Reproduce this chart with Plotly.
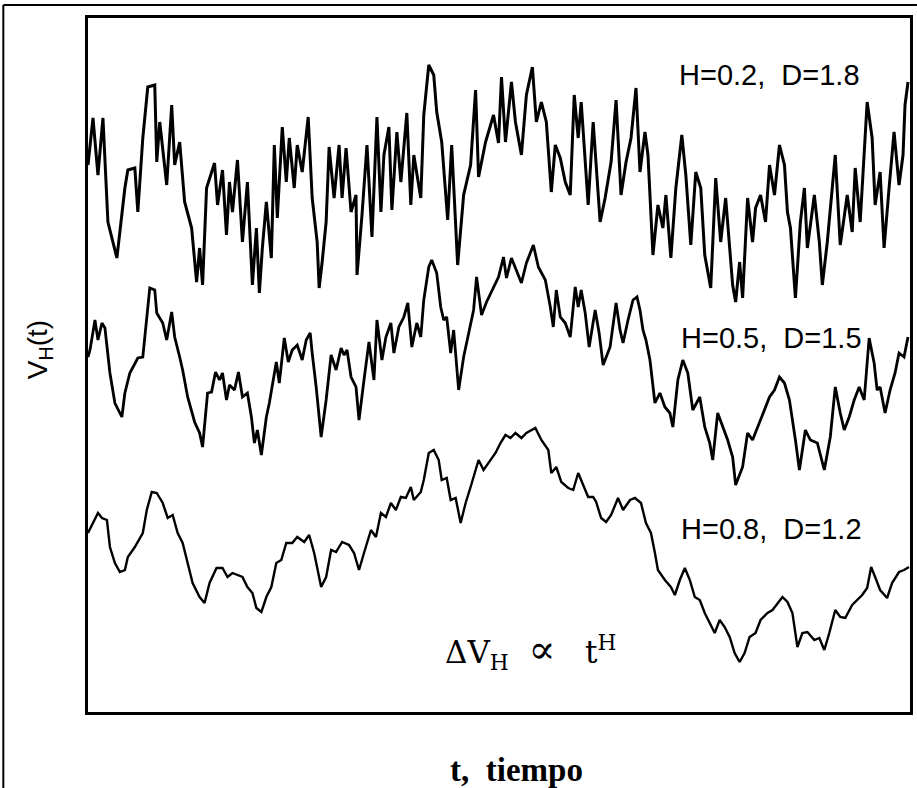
import plotly.graph_objects as go

# ---- data (t: time, V: value) ----
t_h02 = [0, 5, 10, 15, 20, 29, 37, 40, 47, 50, 55, 60, 67, 69, 72, 79, 84, 87, 92, 97, 104, 109, 112, 115, 119,
         127, 130, 135, 139, 142, 145, 150, 155, 160, 165, 169, 172, 175, 179, 184, 187, 190, 195, 199, 202, 207,
         210, 215, 221, 225, 230, 232, 235, 239, 242, 247, 252, 255, 259, 264, 269, 270, 275, 280, 285, 290, 294,
         297, 302, 305, 310, 314, 320, 324, 327, 334, 337, 342, 347, 350, 355, 361, 365, 371, 377, 384, 389, 392,
         399, 407, 412, 415, 419, 425, 429, 435, 440, 446, 450, 455, 460, 465, 469, 474, 479, 484, 488, 492, 495,
         502, 507, 514, 519, 525, 530, 535, 540, 545, 550, 554, 559, 562, 567, 572, 577, 580, 585, 590, 596, 600,
         605, 610, 615, 619, 625, 630, 635, 640, 647, 650, 654, 657, 662, 667, 670, 675, 680, 684, 689, 694, 699,
         702, 705, 710, 715, 719, 722, 729, 734, 737, 742, 747, 750, 755, 762, 767, 770, 775, 782, 787, 790, 795,
         799, 804, 809, 814, 818, 820, 823]
v_h02 = [547, 594, 537, 594, 490, 454, 524, 542, 544, 500, 574, 625, 627, 550, 590, 527, 607, 547, 570, 510, 484,
         430, 464, 427, 524, 549, 507, 542, 477, 530, 500, 552, 470, 530, 427, 484, 419, 464, 510, 454, 567, 494,
         585, 530, 574, 524, 567, 540, 595, 514, 470, 424, 450, 490, 565, 514, 567, 514, 564, 500, 517, 437, 497,
         567, 475, 595, 500, 557, 585, 502, 580, 530, 599, 507, 557, 514, 597, 647, 637, 600, 570, 492, 567, 447,
         517, 547, 622, 535, 570, 597, 569, 635, 570, 630, 590, 557, 617, 645, 590, 610, 590, 520, 567, 554, 530,
         517, 617, 574, 610, 507, 590, 490, 514, 550, 612, 517, 550, 574, 624, 540, 580, 557, 457, 507, 484, 517,
         454, 524, 577, 537, 467, 540, 524, 457, 424, 534, 470, 514, 427, 410, 450, 414, 514, 470, 504, 517, 490,
         547, 517, 567, 547, 500, 484, 414, 490, 524, 464, 517, 470, 427, 470, 524, 557, 467, 517, 480, 544, 490,
         610, 574, 507, 540, 464, 524, 580, 527, 557, 607, 630]

t_h05 = [0, 2, 7, 10, 14, 17, 22, 27, 34, 37, 42, 50, 55, 59, 62, 67, 69, 75, 79, 84, 87, 92, 95, 100, 107, 112,
         115, 120, 124, 128, 132, 135, 139, 142, 147, 151, 155, 160, 164, 167, 170, 174, 179, 182, 185, 189, 192,
         197, 201, 205, 210, 215, 219, 223, 225, 229, 234, 239, 244, 249, 254, 257, 260, 264, 269, 272, 277, 282,
         287, 290, 295, 299, 304, 307, 312, 317, 321, 325, 330, 334, 337, 342, 345, 350, 354, 357, 360, 364, 367,
         372, 377, 382, 387, 390, 395, 400, 407, 412, 417, 420, 425, 430, 435, 440, 447, 452, 459, 464, 467, 470,
         474, 479, 484, 489, 492, 495, 499, 503, 509, 513, 517, 524, 530, 534, 537, 542, 547, 551, 554, 557, 560,
         564, 569, 574, 579, 584, 587, 592, 597, 602, 607, 614, 619, 624, 627, 632, 637, 642, 647, 650, 657, 662,
         667, 674, 680, 684, 689, 694, 699, 704, 710, 714, 720, 725, 732, 739, 745, 750, 755, 759, 764, 769, 774,
         779, 784, 789, 792, 795, 800, 805, 810, 814, 819, 823]
v_h05 = [355, 362, 392, 372, 389, 384, 339, 309, 295, 319, 339, 354, 355, 395, 424, 422, 399, 389, 372, 400, 375,
         355, 342, 315, 290, 279, 265, 319, 320, 340, 332, 339, 312, 327, 322, 340, 315, 319, 295, 269, 282, 257,
         295, 309, 325, 350, 329, 374, 350, 362, 367, 352, 372, 379, 359, 325, 275, 312, 357, 342, 364, 357, 362,
         335, 325, 292, 332, 370, 332, 392, 352, 375, 389, 359, 385, 395, 409, 365, 389, 375, 412, 445, 452, 439,
         405, 392, 395, 359, 382, 322, 355, 379, 402, 435, 397, 410, 425, 435, 455, 434, 454, 442, 429, 449, 467,
         445, 432, 405, 385, 422, 395, 389, 375, 425, 405, 422, 399, 365, 402, 379, 347, 365, 409, 382, 369, 392,
         412, 415, 402, 382, 372, 352, 309, 319, 305, 299, 285, 332, 352, 339, 302, 315, 285, 269, 252, 299, 285,
         272, 255, 227, 245, 279, 272, 289, 305, 315, 322, 335, 329, 312, 272, 242, 282, 272, 269, 242, 275, 325,
         299, 282, 295, 312, 325, 312, 374, 349, 322, 325, 299, 322, 339, 359, 355, 375]

t_h08 = [0, 5, 10, 14, 19, 22, 27, 32, 37, 40, 47, 55, 59, 64, 69, 75, 80, 85, 90, 95, 100, 105, 112, 117, 122,
         129, 135, 140, 145, 150, 155, 160, 165, 169, 174, 179, 184, 189, 194, 199, 205, 210, 217, 222, 227, 234,
         239, 244, 249, 255, 262, 267, 272, 277, 284, 289, 294, 299, 304, 309, 314, 319, 324, 327, 334, 337, 342,
         347, 352, 355, 360, 364, 369, 374, 379, 384, 389, 392, 397, 404, 409, 414, 419, 424, 429, 435, 440, 449,
         455, 462, 465, 470, 475, 482, 487, 492, 495, 502, 507, 510, 515, 520, 525, 532, 537, 544, 549, 555, 560,
         565, 569, 572, 579, 585, 589, 594, 599, 604, 609, 614, 619, 624, 629, 634, 639, 644, 649, 654, 659, 664,
         670, 675, 682, 687, 692, 697, 702, 707, 712, 717, 722, 729, 734, 739, 744, 750, 755, 760, 767, 772, 777,
         782, 786, 790, 795, 802, 807, 814, 819, 824]
v_h08 = [179, 189, 199, 194, 192, 165, 149, 140, 142, 155, 165, 179, 202, 220, 219, 209, 194, 197, 179, 169, 149,
         129, 115, 109, 129, 144, 144, 135, 139, 137, 135, 125, 119, 104, 100, 115, 125, 149, 152, 169, 169, 175,
         170, 177, 159, 125, 135, 162, 160, 170, 167, 159, 142, 159, 182, 175, 199, 195, 209, 202, 215, 214, 225,
         212, 220, 232, 259, 262, 252, 232, 234, 212, 214, 189, 209, 225, 242, 252, 242, 252, 259, 269, 277, 274,
         279, 274, 279, 284, 272, 262, 239, 245, 230, 224, 222, 239, 232, 215, 215, 210, 194, 190, 197, 214, 202,
         212, 214, 209, 189, 179, 159, 142, 132, 125, 117, 132, 144, 132, 115, 112, 99, 89, 79, 92, 85, 75, 59, 50,
         59, 75, 79, 92, 99, 102, 109, 115, 110, 99, 65, 79, 80, 72, 74, 62, 79, 102, 95, 94, 107, 112, 117, 124,
         145, 135, 122, 114, 129, 140, 142, 145]

series_names = ["H=0.2,  D=1.8", "H=0.5,  D=1.5", "H=0.8,  D=1.2"]
y_label = "V<sub>H</sub>(t)"
x_label = "t,  tiempo"
formula = ("\u0394V<sub>H</sub>  <span style='font-size:40px'>\u221d</span>"
           "   t<sup>H</sup>")

# ---- layout geometry (pixels) ----
W, H = 917, 788
L, R, T, B = 88, 913, 18, 712


def px(x):
    return (x - L) / (R - L)


def py(y):
    return (B - y) / (B - T)


fig = go.Figure()
for (tt, vv), lw in zip([(t_h02, v_h02), (t_h05, v_h05), (t_h08, v_h08)], [3.0, 2.8, 2.4]):
    fig.add_trace(go.Scatter(x=tt, y=vv, mode="lines",
                             line=dict(color="black", width=lw),
                             hoverinfo="skip", showlegend=False))

axis_common = dict(showgrid=False, zeroline=False, showticklabels=False, ticks="",
                   showline=True, linecolor="black", linewidth=3, mirror=True)
fig.update_xaxes(range=[0, R - L], **axis_common)
fig.update_yaxes(range=[0, B - T], **axis_common)

label_font = dict(family="Liberation Sans, Arial, sans-serif", size=29, color="black")
anns = [
    dict(x=px(772), y=py(75), text=series_names[0]),
    dict(x=px(774), y=py(338), text=series_names[1]),
    dict(x=px(774), y=py(529), text=series_names[2]),
]
for a in anns:
    fig.add_annotation(xref="paper", yref="paper", xanchor="center", yanchor="middle",
                       showarrow=False, font=label_font, **a)

fig.add_annotation(xref="paper", yref="paper", x=px(40), y=py(350), text=y_label,
                   textangle=-90, showarrow=False, xanchor="center", yanchor="middle",
                   font=dict(family="Liberation Sans, Arial, sans-serif", size=28, color="black"))
fig.add_annotation(xref="paper", yref="paper", x=px(518), y=py(770), text="<b>" + x_label + "</b>",
                   showarrow=False, xanchor="center", yanchor="middle",
                   font=dict(family="Liberation Serif, Times New Roman, serif", size=33, color="black"))
fig.add_annotation(xref="paper", yref="paper", x=px(532), y=py(650), text=formula,
                   showarrow=False, xanchor="center", yanchor="middle",
                   font=dict(family="DejaVu Serif, serif", size=31, color="black"))

# outer scanned frame
fig.add_shape(type="line", xref="paper", yref="paper", x0=px(3), x1=px(3), y0=py(5), y1=py(790),
              line=dict(color="black", width=2))
fig.add_shape(type="line", xref="paper", yref="paper", x0=px(3), x1=px(920), y0=py(5), y1=py(5),
              line=dict(color="black", width=2))

fig.update_layout(width=W, height=H, margin=dict(l=L, r=W - R, t=T, b=H - B),
                  paper_bgcolor="white", plot_bgcolor="white", showlegend=False)

fig.write_html("out.html")
